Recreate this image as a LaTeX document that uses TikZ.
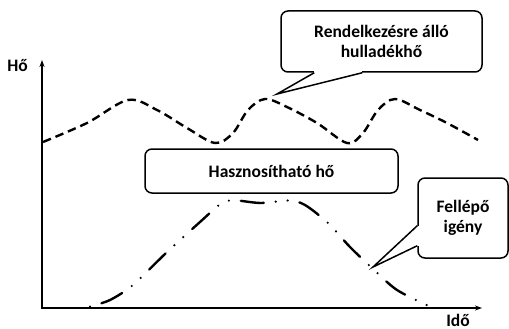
\documentclass[tikz,border=0pt]{standalone}
\usepackage{fontspec}
\setmainfont{Carlito}
\usetikzlibrary{arrows.meta}
\begin{document}
\begin{tikzpicture}[x=1pt, y=-1pt,
    bubble/.style={draw, line width=1.5pt, rounded corners=7pt, fill=white,
      align=center, inner sep=0pt, font=\bfseries\fontsize{17.5}{20.5}\selectfont},
    axtext/.style={anchor=base, font=\bfseries\fontsize{17.5}{20.5}\selectfont},
    axis/.style={line width=1.4pt, {Stealth[length=7pt,width=5pt]}-{Stealth[length=7pt,width=5pt]}},
    tail/.style={line width=1.5pt}]
  \useasboundingbox (0,0) rectangle (509,329);
  % axes
  \coordinate (origin) at (42,308);
  \coordinate (ytop) at (42,60);
  \coordinate (xend) at (482,308);
  \draw[axis] (ytop) -- (origin) -- (xend);
  \node[axtext] (hoLabel) at (17.5,72) {Hő};
  \node[axtext] (idoLabel) at (458,326) {Idő};
  % waste heat curve
  \draw[line width=2.4pt, dash pattern=on 8.5pt off 5pt] plot[smooth, tension=0.55]
    coordinates {(43,142) (87,123) (128,100) (157,110) (187,128) (215,143) (233,133)
      (248,110) (265,99) (287,107) (317,123) (347,143) (363,133) (378,110) (395,99)
      (420,110) (447,123) (478,140)};
  % demand curve
  \draw[line width=2.4pt, line cap=round,
    dash pattern=on 0pt off 12pt on 23pt off 12pt on 0pt off 12pt] plot[smooth, tension=0.5]
    coordinates {(90,306.5) (110,300) (133,285) (165,254) (200,222) (222,203) (236,200.5)
      (261,203) (289,200.5) (305,205) (328,223) (350,247) (372,268) (397,290) (430,306.5)};
  % callouts
  \node[bubble, minimum width=201pt, minimum height=61pt] (waste) at (381.5,41.5)
    {Rendelkezésre álló\\hulladékhő};
  \coordinate (wasteTip) at (277,94);
  \fill[white] ([xshift=34pt,yshift=1.5pt]waste.south west) rectangle ([xshift=82pt,yshift=-1.5pt]waste.south west);
  \draw[tail] ([xshift=34pt]waste.south west) -- (wasteTip) -- ([xshift=82pt]waste.south west);
  \node[bubble, minimum width=253pt, minimum height=44pt] (useful) at (271.5,171)
    {Hasznosítható hő};
  \node[bubble, minimum width=90pt, minimum height=80pt] (demand) at (463,218)
    {Fellépő\\igény};
  \coordinate (demandTip) at (373,267);
  \fill[white] ([xshift=-1.5pt,yshift=13pt]demand.south west) rectangle ([xshift=1.5pt,yshift=33pt]demand.south west);
  \draw[tail] ([yshift=33pt]demand.south west) -- (demandTip) -- ([yshift=13pt]demand.south west);
\end{tikzpicture}
\end{document}
